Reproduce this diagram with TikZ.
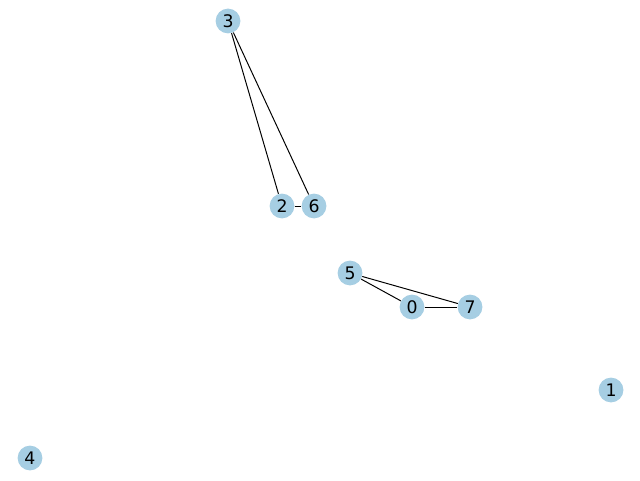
\documentclass[tikz,border=0pt]{standalone}
\usepackage{fontspec}
\setmainfont{DejaVu Sans}
\definecolor{nodeblue}{HTML}{A6CEE3}
\tikzset{
	vertex/.style={circle, fill=nodeblue, minimum size=0.62cm, inner sep=0pt, font=\fontsize{12.3}{14}\selectfont},
	link/.style={draw=black, line width=0.7pt}
}

\begin{document}
\begin{tikzpicture}
		%%%%% START %%%%%
		\useasboundingbox (0, 0) rectangle (16, 12);
		
		\node[vertex] (n3) at (5.70, 11.475) {3};
		\node[vertex] (n2) at (7.05, 6.85) {2};
		\node[vertex] (n6) at (7.85, 6.85) {6};
		\node[vertex] (n5) at (8.75, 5.175) {5};
		\node[vertex] (n0) at (10.30, 4.325) {0};
		\node[vertex] (n7) at (11.75, 4.325) {7};
		\node[vertex] (n1) at (15.275, 2.25) {1};
		\node[vertex] (n4) at (0.75, 0.55) {4};
		
		\draw[link] (n3) -- (n2);
		\draw[link] (n3) -- (n6);
		\draw[link] (n2) -- (n6);
		\draw[link] (n5) -- (n0);
		\draw[link] (n5) -- (n7);
		\draw[link] (n0) -- (n7);
		%%%%% END %%%%%
	\end{tikzpicture}
\end{document}
